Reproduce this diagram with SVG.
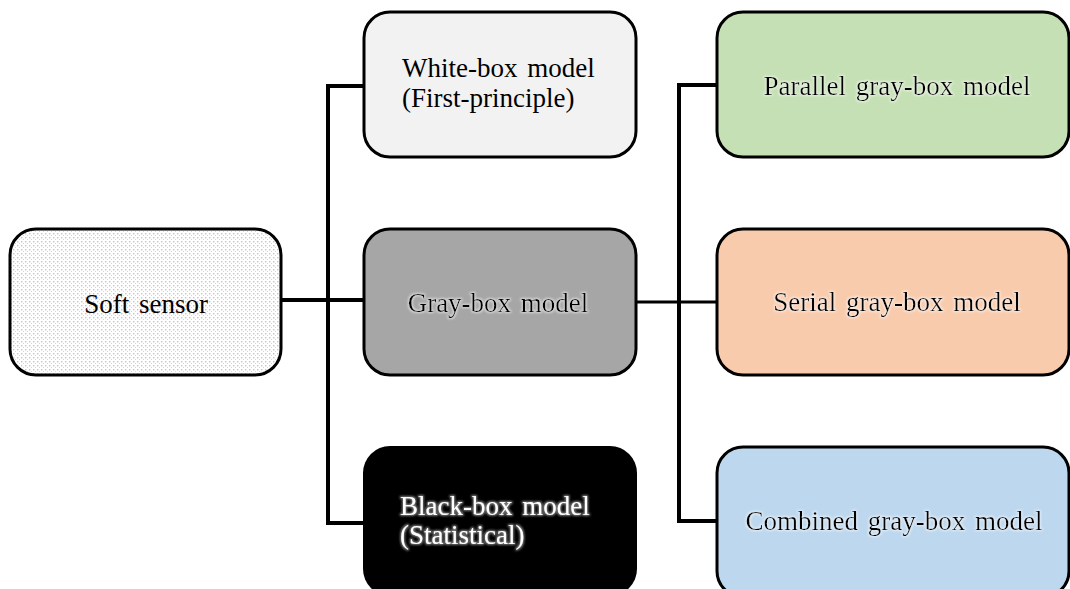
<svg xmlns="http://www.w3.org/2000/svg" width="1070" height="589" viewBox="0 0 1070 589">
<defs>
<pattern id="dots" width="4" height="4" patternUnits="userSpaceOnUse">
<rect width="4" height="4" fill="#ffffff"/>
<rect x="1" y="1" width="1.4" height="1.4" fill="#c4c4c4"/>
<rect x="3" y="3" width="1.4" height="1.4" fill="#d4d4d4"/>
</pattern>
<filter id="glowW" x="-10%" y="-30%" width="120%" height="160%">
<feMorphology in="SourceAlpha" operator="dilate" radius="0.6" result="d"/>
<feGaussianBlur in="d" stdDeviation="1.2" result="b"/>
<feFlood flood-color="#ffffff" flood-opacity="0.55"/>
<feComposite in2="b" operator="in" result="g"/>
<feMerge><feMergeNode in="g"/><feMergeNode in="SourceGraphic"/></feMerge>
</filter>
<filter id="glowG" x="-10%" y="-30%" width="120%" height="160%">
<feMorphology in="SourceAlpha" operator="dilate" radius="1" result="d"/>
<feGaussianBlur in="d" stdDeviation="1.2" result="b"/>
<feFlood flood-color="#8a8a8a" flood-opacity="0.9"/>
<feComposite in2="b" operator="in" result="g"/>
<feMerge><feMergeNode in="g"/><feMergeNode in="SourceGraphic"/></feMerge>
</filter>
</defs>
<style>
.box{stroke:#000;stroke-width:3}
.t{font-family:"Liberation Serif","Times New Roman",serif;font-size:27px;fill:#000;word-spacing:3px}
.c{text-anchor:middle}
.lk{stroke:#000;stroke-width:4;fill:none}
</style>
<g id="connectors">
<line class="lk" x1="281" y1="300" x2="364" y2="300"/>
<polyline class="lk" points="364,86 328,86 328,523 364,523"/>
<line class="lk" x1="637" y1="302" x2="717" y2="302" style="stroke-width:3"/>
<polyline class="lk" points="717,85 679,85 679,521 717,521"/>
</g>
<g id="soft-sensor">
<rect class="box" x="10" y="229" width="271" height="146" rx="26" fill="url(#dots)"/>
<text class="t c" x="146" y="313">Soft sensor</text>
</g>
<g id="white-box">
<rect class="box" x="364" y="12" width="272" height="145" rx="26" fill="#f2f2f2"/>
<text class="t" x="402" y="77">White-box model</text>
<text class="t" x="402" y="107">(First-principle)</text>
</g>
<g id="gray-box">
<rect class="box" x="364" y="229" width="272" height="146" rx="26" fill="#a6a6a6"/>
<text class="t c" x="498" y="312" filter="url(#glowW)">Gray-box model</text>
</g>
<g id="black-box">
<rect x="363" y="446" width="274" height="150" rx="27" fill="#000"/>
<text class="t" x="400" y="515" style="fill:#fff" filter="url(#glowG)">Black-box model</text>
<text class="t" x="400" y="544" style="fill:#fff" filter="url(#glowG)">(Statistical)</text>
</g>
<g id="parallel">
<rect class="box" x="717" y="12" width="352" height="145" rx="26" fill="#c5e0b4"/>
<text class="t c" x="897" y="95" filter="url(#glowW)">Parallel gray-box model</text>
</g>
<g id="serial">
<rect class="box" x="717" y="229" width="352" height="146" rx="26" fill="#f8cbad"/>
<text class="t c" x="897" y="311" filter="url(#glowW)">Serial gray-box model</text>
</g>
<g id="combined">
<rect class="box" x="717" y="447" width="352" height="150" rx="26" fill="#bdd7ee"/>
<text class="t c" x="894" y="530" filter="url(#glowW)">Combined gray-box model</text>
</g>
</svg>
